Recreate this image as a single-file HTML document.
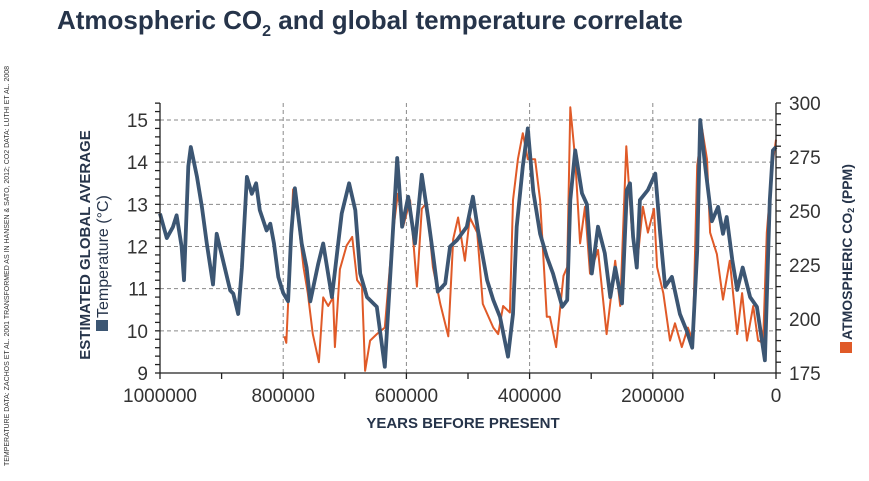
<!DOCTYPE html>
<html><head><meta charset="utf-8"><style>
html,body{margin:0;padding:0;background:#fff;}
body{width:869px;height:476px;overflow:hidden;font-family:"Liberation Sans",sans-serif;}
</style></head><body>
<svg id="chart" width="869" height="476" xmlns="http://www.w3.org/2000/svg" font-family="Liberation Sans, sans-serif">
<text x="57" y="29" font-size="26" font-weight="bold" fill="#26344a">Atmospheric CO<tspan font-size="16" dy="7">2</tspan><tspan dy="-7"> and global temperature correlate</tspan></text>
<text transform="translate(9,466) rotate(-90)" font-size="7" fill="#333" textLength="400" lengthAdjust="spacingAndGlyphs">TEMPERATURE DATA: ZACHOS ET AL. 2001 TRANSFORMED AS IN HANSEN &amp; SATO, 2012; CO2 DATA: LUTHI ET AL. 2008</text>
<g id="grid"></g>
<g id="series"></g>
<g id="axes"></g>
<text transform="translate(90,245) rotate(-90)" text-anchor="middle" font-size="15" font-weight="bold" fill="#26344a">ESTIMATED GLOBAL AVERAGE</text>
<g transform="translate(108,245) rotate(-90)">
<rect x="-86" y="-12" width="11" height="12" fill="#3c5673"/>
<text x="-73" y="0" font-size="16" fill="#26344a">Temperature (°C)</text>
</g>
<g transform="translate(852,253) rotate(-90)">
<rect x="-100" y="-12" width="11" height="12" fill="#e05a28"/>
<text x="-87" y="0" font-size="14" font-weight="bold" fill="#26344a">ATMOSPHERIC CO<tspan font-size="9" dy="2">2</tspan><tspan dy="-2"> (PPM)</tspan></text>
</g>
<text x="463" y="428" text-anchor="middle" font-size="15" font-weight="bold" fill="#26344a">YEARS BEFORE PRESENT</text>
</svg>
<script>
const tempAges=[1000,989,979,973,965,961,954,950,940,932,924,914,908,899,886,881,873,867,859,851,844,838,827,821,815,808,800,792,787,781,770,762,756,743,735,721,705,693,683,675,664,648,635,623,615,607,597,586,575,565,557,549,537,529,518,502,492,484,469,459,448,435,427,421,411,403,394,383,372,362,347,339,334,326,315,307,299,289,278,269,261,250,242,237,232,226,221,208,196,188,180,169,156,145,136,128,123,115,104,94,86,80,71,63,54,42,31,18,10,5,0];
const tempValues=[12.78,12.2,12.46,12.74,12.0,11.2,13.9,14.36,13.65,12.94,12.07,11.1,12.3,11.75,10.96,10.88,10.4,11.5,13.65,13.25,13.5,12.86,12.38,12.54,12.07,11.28,10.9,10.7,12.3,13.38,12.07,11.5,10.7,11.6,12.07,10.8,12.78,13.5,12.86,11.36,10.8,10.57,9.15,12.07,14.1,12.47,13.18,12.07,13.7,12.7,11.84,10.93,11.12,12.0,12.15,12.47,13.18,12.4,11.2,10.73,10.33,9.39,10.4,12.47,13.9,14.8,13.3,12.3,11.76,11.36,10.57,10.73,13.1,14.28,13.26,13.0,11.36,12.47,11.84,10.8,11.5,10.65,13.34,13.5,12.23,11.5,13.1,13.34,13.73,12.3,11.05,11.28,10.4,10.0,9.6,11.9,15.0,13.9,12.6,12.94,12.3,12.7,11.68,10.97,11.5,10.8,10.57,9.3,13.1,14.28,14.36];
const co2Ages=[798,795,792,784,776,767,760,752,742,735,727,719,716,708,697,688,680,672,667,659,648,635,623,614,605,594,583,575,567,557,545,532,524,516,505,497,485,476,459,451,443,432,427,419,411,403,391,383,372,367,357,345,339,334,326,318,310,302,289,275,261,253,243,234,226,216,208,198,193,183,172,164,153,143,135,128,120,112,107,96,86,75,63,55,47,37,29,21,15,6,0];
const co2Values=[192,189,207,260,247,224,212,193,180,210,206,210,187,223,234,238,218,215,176,190,193,196,237,258,243,255,215,251,254,224,207,192,237,247,227,247,240,207,196,193,206,203,255,274,286,274,274,255,201,201,187,220,224,298,274,235,252,221,232,193,227,206,280,241,224,252,240,251,224,212,190,198,187,196,190,271,288,274,240,230,209,227,193,212,190,206,190,189,240,271,283];
const xTicks=[1000000,800000,600000,400000,200000,0];
const tTicks=[9,10,11,12,13,14,15];
const cTicks=[175,200,225,250,275,300];

const NS='http://www.w3.org/2000/svg';
const X0=160,X1=776,YB=373,YT=103;
const xs=a=>X1-(a/1000000)*(X1-X0);        // a in years
const xk=k=>X1-(k/1000)*(X1-X0);            // k in kyr
const yt=t=>373-(t-9)*(253/6);
const yc=c=>373-(c-175)*(270/125);
function mk(tag,attrs,parent){const e=document.createElementNS(NS,tag);for(const k in attrs)e.setAttribute(k,attrs[k]);parent.appendChild(e);return e;}
const grid=document.getElementById('grid'),axes=document.getElementById('axes'),series=document.getElementById('series');
tTicks.forEach(t=>{if(t===9)return;const l=mk('line',{x1:X0,x2:X1,y1:yt(t),y2:yt(t),stroke:'#8a8a8a','stroke-width':1,'stroke-dasharray':'4,3'},grid);

});
xTicks.forEach(a=>{if(a===0||a===1000000)return;const l=mk('line',{x1:xs(a),x2:xs(a),y1:YT,y2:YB,stroke:'#8a8a8a','stroke-width':1,'stroke-dasharray':'4,3'},grid);

});
function pts(ages,vals,yf){return ages.map((a,i)=>xk(a).toFixed(1)+','+Math.max(YT,Math.min(YB,yf(vals[i]))).toFixed(1)).join(' ');}
const co2=mk('polyline',{points:pts(co2Ages,co2Values,yc),fill:'none',stroke:'#e05a28','stroke-width':2,'stroke-linejoin':'round'},series);


const tl=mk('polyline',{points:pts(tempAges,tempValues,yt),fill:'none',stroke:'#3c5673','stroke-width':3.8,'stroke-linejoin':'round'},series);


const ax={stroke:'#222','stroke-width':1.3};
mk('line',Object.assign({x1:X0,x2:X0,y1:YT,y2:YB},ax),axes);
mk('line',Object.assign({x1:X1,x2:X1,y1:YT,y2:YB},ax),axes);
mk('line',Object.assign({x1:X0,x2:X1,y1:YB,y2:YB},ax),axes);
for(let t=9;t<=15.4001;t+=0.2){mk('line',Object.assign({x1:X0-5,x2:X0,y1:yt(t),y2:yt(t)},ax),axes);}
for(let c=175;c<=300;c+=5){mk('line',Object.assign({x1:X1,x2:X1+5,y1:yc(c),y2:yc(c)},ax),axes);}
for(let a=0;a<=1000000;a+=100000){mk('line',Object.assign({x1:xs(a),x2:xs(a),y1:YB,y2:YB+6},ax),axes);}
tTicks.forEach(t=>{const e=mk('text',{x:148,y:yt(t)+7,'text-anchor':'end','font-size':19,fill:'#333'},axes);e.textContent=t;

});
cTicks.forEach(c=>{const e=mk('text',{x:789,y:yc(c)+7,'font-size':19,fill:'#333'},axes);e.textContent=c;

});
xTicks.forEach(a=>{const e=mk('text',{x:xs(a),y:402,'text-anchor':'middle','font-size':19,fill:'#333'},axes);e.textContent=a;

});
</script>
</body></html>
